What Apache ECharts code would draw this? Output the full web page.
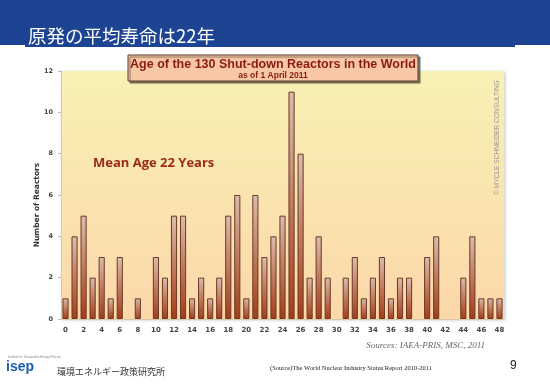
<!DOCTYPE html>
<html><head><meta charset="utf-8">
<script src="https://cdn.jsdelivr.net/npm/echarts@6/dist/echarts.min.js"></script>
<style>html,body{margin:0;padding:0;background:#fff}#c{width:550px;height:384px}</style>
</head><body><div id="c"></div>
<script>
const ages = ['0','1','2','3','4','5','6','7','8','9','10','11','12','13','14','15','16','17','18','19','20','21','22','23','24','25','26','27','28','29','30','31','32','33','34','35','36','37','38','39','40','41','42','43','44','45','46','47','48'];
const reactors = [1,4,5,2,3,1,3,0,1,0,3,2,5,5,1,2,1,2,5,6,1,6,3,4,5,11,8,2,4,2,0,2,3,1,2,3,1,2,2,0,3,4,0,0,2,4,1,1,1];
const yTicks = [0,2,4,6,8,10,12];

const chart = echarts.init(document.getElementById('c'), null, {renderer:'canvas'});
const G = {left:61, top:71, width:443, height:248};
chart.setOption({
  animation:false,
  backgroundColor:'#fff',
  grid:{left:G.left, top:G.top, width:G.width, height:G.height, show:true, borderWidth:0,
    shadowColor:'rgba(0,0,0,0.25)', shadowBlur:3, shadowOffsetX:1, shadowOffsetY:1,
    backgroundColor:{type:'linear',x:0,y:0,x2:0,y2:1,colorStops:[{offset:0,color:'#f8f1b4'},{offset:1,color:'#fcd7aa'}]}},
  xAxis:{type:'category', data:ages,
    axisLine:{show:true,lineStyle:{color:'#d8c8a8'}}, axisTick:{show:false},
    axisLabel:{interval:1, color:'#444', fontSize:7, fontWeight:'bold', fontFamily:'DejaVu Sans', margin:8}},
  yAxis:{type:'value', min:0, max:12, interval:2,
    axisLine:{show:true,lineStyle:{color:'#ccc'}}, axisTick:{show:true,length:3,lineStyle:{color:'#bbb'}}, splitLine:{show:false},
    axisLabel:{color:'#444', fontSize:6.5, fontWeight:'bold', fontFamily:'DejaVu Sans', margin:8,
      formatter:v=>yTicks.includes(v)?String(v):''}},
  series:[{type:'bar', data:reactors.map(v=>v===0?'-':v), barCategoryGap:'32%',
    itemStyle:{borderColor:'#6b3a28', borderWidth:1,
      color:{type:'linear',x:0,y:0,x2:0,y2:1,colorStops:[{offset:0,color:'#dcbcae'},{offset:0.5,color:'#c07a5e'},{offset:1,color:'#a23c18'}]}}}],
  graphic:[
    {type:'rect', shape:{x:0,y:0,width:550,height:45}, style:{fill:'#1c4493'}, z:-1},
    {type:'rect', shape:{x:25,y:44,width:490,height:3}, style:{fill:'#1c4493'}, z:-1},
    {type:'text', left:28, top:27, style:{text:'原発の平均寿命は22年', fill:'#fff', font:'18.5px "Noto Sans CJK JP"'}},
    {type:'rect', shape:{x:128,y:55,width:290,height:26}, style:{fill:'#f8c8a4', stroke:'#5a3a30', lineWidth:1, shadowColor:'rgba(0,0,0,0.45)', shadowOffsetX:2, shadowOffsetY:2, shadowBlur:1}, z:10},
    {type:'text', x:273, y:58, z:11, style:{text:'Age of the 130 Shut-down Reactors in the World', fill:'#8a1a14', font:'bold 12.5px "Liberation Sans"', textAlign:'center'}},
    {type:'text', x:273, y:71, z:11, style:{text:'as of 1 April 2011', fill:'#8a1a14', font:'bold 8.5px "Liberation Sans"', textAlign:'center'}},
    {type:'text', x:93, y:157, z:11, style:{text:'Mean Age 22 Years', fill:'#9a2a1c', font:'bold 13px "Open Sans"'}},
    {type:'text', x:497, y:195, rotation:Math.PI/2, z:11, style:{text:'© MYCLE SCHNEIDER CONSULTING', fill:'#999', font:'6.6px "Liberation Sans"', textAlign:'left', textVerticalAlign:'middle'}},
    {type:'text', x:37, y:205, rotation:Math.PI/2, z:11, style:{text:'Number of Reactors', fill:'#333', font:'bold 7.5px "DejaVu Sans"', textAlign:'center', textVerticalAlign:'middle'}},
    {type:'text', x:485, y:341, z:11, style:{text:'Sources: IAEA-PRIS, MSC, 2011', fill:'#666', font:'italic 9px "Liberation Serif"', textAlign:'right'}},
    {type:'text', x:6, y:360, z:11, style:{text:'isep', fill:'#1c5fb0', font:'bold 14px "Liberation Sans"'}},
    {type:'text', x:8, y:356, z:11, style:{text:'Institute for Sustainable Energy Policies', fill:'#888', font:'3px "Liberation Sans"'}},
    {type:'text', x:57, y:367, z:11, style:{text:'環境エネルギー政策研究所', fill:'#333', font:'9px "Noto Sans CJK JP"'}},
    {type:'text', x:270, y:365, z:11, style:{text:'(Source)The World Nuclear Industry Status Report 2010-2011', fill:'#222', font:'6.5px "Liberation Serif"'}},
    {type:'text', x:510, y:360, z:11, style:{text:'9', fill:'#222', font:'12px "Liberation Sans"'}}
  ]
});
</script></body></html>
